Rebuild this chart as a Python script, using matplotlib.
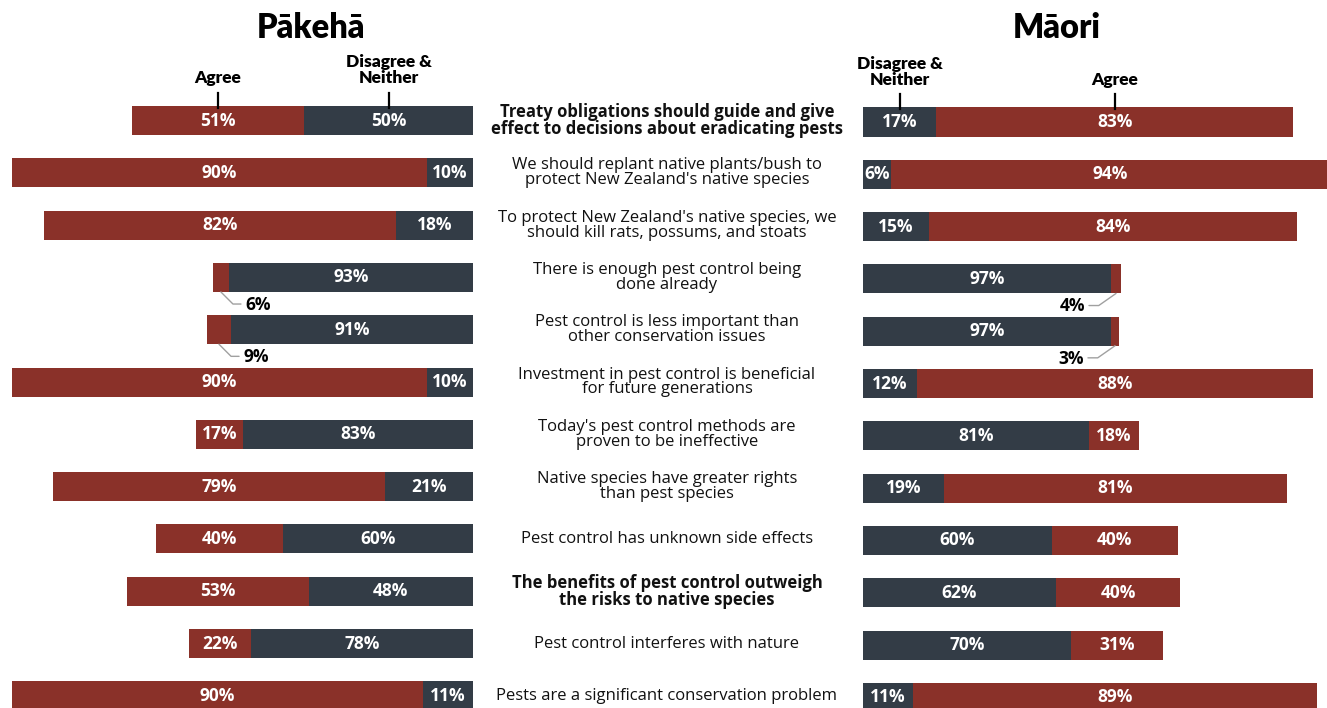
import matplotlib
matplotlib.use("Agg")
import matplotlib.pyplot as plt
from matplotlib.transforms import blended_transform_factory

# statements in the middle column (top to bottom)
statements = [
    "Treaty obligations should guide and give\neffect to decisions about eradicating pests",
    "We should replant native plants/bush to\nprotect New Zealand's native species",
    "To protect New Zealand's native species, we\nshould kill rats, possums, and stoats",
    "There is enough pest control being\ndone already",
    "Pest control is less important than\nother conservation issues",
    "Investment in pest control is beneficial\nfor future generations",
    "Today's pest control methods are\nproven to be ineffective",
    "Native species have greater rights\nthan pest species",
    "Pest control has unknown side effects",
    "The benefits of pest control outweigh\nthe risks to native species",
    "Pest control interferes with nature",
    "Pests are a significant conservation problem",
]
bold_rows = [0, 9]

pakeha_agree = [51, 90, 82, 6, 9, 90, 17, 79, 40, 53, 22, 90]
pakeha_dis = [50, 10, 18, 93, 91, 10, 83, 21, 60, 48, 78, 11]
# total bar length as drawn (longest bar = 100)
pakeha_len = [74, 100, 93, 56.4, 57.7, 100, 60, 91, 68.8, 75, 61.6, 100]

maori_dis = [17, 6, 15, 97, 97, 12, 81, 19, 60, 62, 70, 11]
maori_agree = [83, 94, 84, 4, 3, 88, 18, 81, 40, 40, 31, 89]
maori_len = [93.3, 101, 94.1, 56, 55.5, 97.6, 59.9, 92, 68.3, 68.8, 65.1, 98.5]

RED = "#8a3129"
DARK = "#333c46"
H = 0.555
W, HGT = 1327, 708

fig = plt.figure(figsize=(W / 100, HGT / 100), dpi=100)
fig.patch.set_facecolor("white")

ax_top = 94.35
ax_bot = 722.0
axL = fig.add_axes([12 / W, 1 - ax_bot / HGT, 461 / W, (ax_bot - ax_top) / HGT])
axR = fig.add_axes([863 / W, 1 - (ax_bot + 1.5) / HGT, 464 / W, (ax_bot - ax_top) / HGT])
axL.set_xlim(100, 0)
axR.set_xlim(0, 464 / 4.61)
for ax in (axL, axR):
    ax.set_ylim(len(statements) - 0.5, -0.5)
    ax.axis("off")

pct_font = dict(family="Open Sans", weight="bold", size=12.5, color="white")
out_font = dict(family="Open Sans", weight="bold", size=12.5, color="black")
lab_font = dict(family="Lato", weight="heavy", size=12.5, color="black")


def draw_panel(ax, agree, dis, lens, side):
    for i in range(len(agree)):
        tot = agree[i] + dis[i]
        wd = lens[i] * dis[i] / tot
        wa = lens[i] * agree[i] / tot
        ax.barh(i, wd, left=0, height=H, color=DARK)
        ax.barh(i, wa, left=wd, height=H, color=RED)
        ax.text(wd / 2, i, f"{dis[i]}%", ha="center", va="center", **pct_font)
        if agree[i] >= 10:
            ax.text(wd + wa / 2, i, f"{agree[i]}%", ha="center", va="center", **pct_font)
        else:
            dx = 37 if side == "left" else -44
            ax.annotate(f"{agree[i]}%", xy=(wd + wa / 2, i + H / 2),
                        xytext=(dx, -13), textcoords="offset pixels",
                        ha="center", va="center", **out_font,
                        arrowprops=dict(arrowstyle="-", color="#a0a0a0", lw=1,
                                        relpos=(0, 0.55) if side == "left" else (1, 0.55),
                                        shrinkA=1, shrinkB=0,
                                        connectionstyle="angle,angleA=0,angleB=%d" % (-45 if side == "left" else 35)))
    # header labels pointing to first bar
    tot = agree[0] + dis[0]
    wd = lens[0] * dis[0] / tot
    wa = lens[0] * agree[0] / tot
    for x, txt in ((wd / 2, "Disagree &\nNeither"), (wd + wa / 2, "Agree")):
        ax.plot([x, x], [-H / 2 + 0.03, -H / 2 - 0.25], color="black", lw=1.6, clip_on=False)
        ax.text(x, -H / 2 - 0.38, txt, ha="center", va="bottom", linespacing=1.0, **lab_font)


draw_panel(axL, pakeha_agree, pakeha_dis, pakeha_len, "left")
draw_panel(axR, maori_agree, maori_dis, maori_len, "right")

# middle statements
tr = blended_transform_factory(fig.transFigure, axL.transData)
for i, s in enumerate(statements):
    axL.text(667 / W, i, s, transform=tr, ha="center", va="center",
             family="Open Sans", size=12, linespacing=0.9,
             weight="bold" if i in bold_rows else "normal", color="#111111",
             clip_on=False)

fig.text(311 / W, 1 - 28 / HGT, "Pākehā", ha="center", va="center",
         family="Lato", weight="heavy", size=23.5)
fig.text(1057 / W, 1 - 28 / HGT, "Māori", ha="center", va="center",
         family="Lato", weight="heavy", size=23.5)

fig.savefig("out.png", dpi=100, facecolor="white")
